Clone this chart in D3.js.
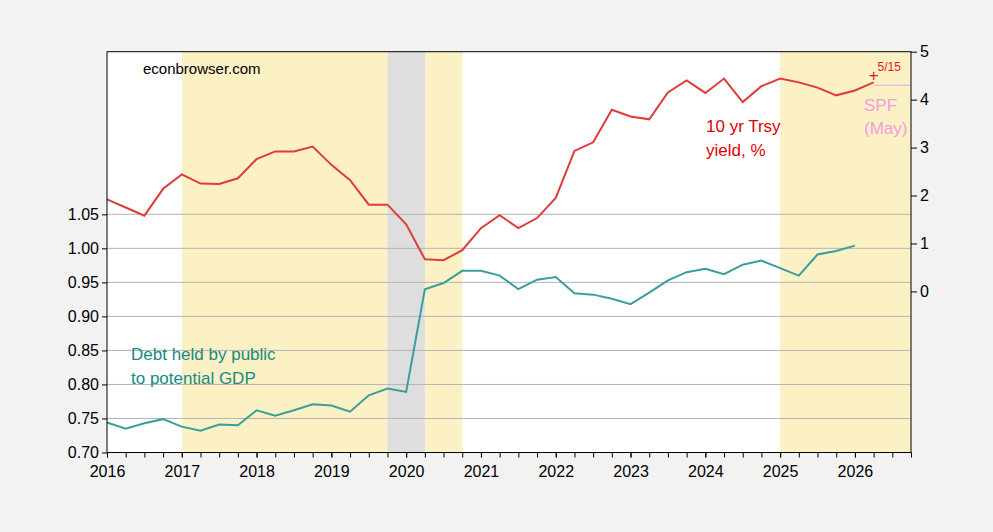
<!DOCTYPE html>
<html><head><meta charset="utf-8">
<script src="https://cdn.jsdelivr.net/npm/d3@7"></script>
<style>body{margin:0;background:#f2f2f2;font-family:Arial,"Liberation Sans",sans-serif;}</style>
</head><body><svg id="c" width="993" height="532"></svg>
<script>
// quarterly, 2016Q1 onward
var yieldVals = [1.92,1.75,1.58,2.14, 2.44,2.25,2.24,2.36, 2.76,2.92,2.92,3.02, 2.64,2.32,1.81,1.81,
  1.40,0.67,0.65,0.86, 1.32,1.59,1.32,1.53, 1.95,2.93,3.11,3.79, 3.65,3.59,4.15,4.40,
  4.14,4.44,3.95,4.28, 4.44,4.36,4.25,4.09, 4.19,4.36];
var debtVals = [0.744,0.735,0.743,0.749, 0.738,0.732,0.741,0.740, 0.762,0.754,0.762,0.771,
  0.769,0.760,0.784,0.794, 0.789,0.940,0.949,0.967, 0.967,0.960,0.940,0.954,
  0.958,0.934,0.932,0.926, 0.918,0.935,0.953,0.965, 0.970,0.962,0.976,0.982,
  0.971,0.960,0.991,0.996, 1.004];
var spfPoint = {t: 2026.25, v: 4.52, label: "5/15"};
var spfLevel = 4.30;
var leftTicks = [0.70,0.75,0.80,0.85,0.90,0.95,1.00,1.05];
var rightTicks = [0,1,2,3,4,5];
var yearTicks = d3.range(2016, 2027);
var yellowBands = [[2017,2019.75],[2020.25,2020.75],[2025,2026.75]];
var grayBands = [[2019.75,2020.25]];

var L=107, R=911, T=51.7, B=452.5;
var svg = d3.select('#c');
var x = d3.scaleLinear().domain([2016,2026.75]).range([L,R]);
var yL = d3.scaleLinear().domain([0.70,1.289]).range([B,T]);
var yR = d3.scaleLinear().domain([-3.36,5]).range([B,T]);
var tq = function(i){ return 2016 + i/4; };

svg.append('rect').attr('x',L).attr('y',T).attr('width',R-L).attr('height',B-T).attr('fill','#fff');
svg.selectAll('.yb').data(yellowBands).enter().append('rect')
  .attr('x',d=>x(d[0])).attr('width',d=>x(d[1])-x(d[0])).attr('y',T).attr('height',B-T).attr('fill','#fcf1c4');
svg.selectAll('.gb').data(grayBands).enter().append('rect')
  .attr('x',d=>x(d[0])).attr('width',d=>x(d[1])-x(d[0])).attr('y',T).attr('height',B-T).attr('fill','#dedede');

svg.selectAll('.grid').data(leftTicks.slice(1)).enter().append('line')
  .attr('x1',L).attr('x2',R).attr('y1',d=>yL(d)).attr('y2',d=>yL(d)).attr('stroke','#b4b4b4');

var line = function(ys){ return d3.line().x((d,i)=>x(tq(i))).y(d=>ys(d)); };
svg.append('path').datum(debtVals).attr('d',line(yL)).attr('fill','none').attr('stroke','#3a9e9a').attr('stroke-width',2);
svg.append('path').datum(yieldVals).attr('d',line(yR)).attr('fill','none').attr('stroke','#e03a3a').attr('stroke-width',2);

svg.append('line').attr('x1',x(spfPoint.t)).attr('x2',R).attr('y1',yR(spfLevel)).attr('y2',yR(spfLevel)).attr('stroke','#f4a3e0');
svg.append('text').attr('x',x(spfPoint.t)).attr('y',yR(spfPoint.v)+6).attr('text-anchor','middle').attr('fill','#e8141e').style('font-size','17px').text('+');
svg.append('text').attr('x',x(spfPoint.t)+4).attr('y',yR(spfPoint.v)-4).attr('fill','#e8141e').style('font-size','12px').text(spfPoint.label);

svg.append('rect').attr('x',L).attr('y',T).attr('width',R-L).attr('height',B-T).attr('fill','none').attr('stroke','#000');

svg.append('g').attr('transform','translate(0,'+B+')')
  .call(d3.axisBottom(x).tickValues(d3.range(2016,2026.76,0.25)).tickSize(5).tickFormat(''));
svg.append('g').attr('transform','translate(0,'+B+')')
  .call(d3.axisBottom(x).tickValues(yearTicks).tickSize(5).tickFormat(d3.format('d')))
  .call(g=>g.selectAll('text').attr('dy','1.05em').style('font-size','16px'));
svg.append('g').attr('transform','translate('+L+',0)')
  .call(d3.axisLeft(yL).tickValues(leftTicks).tickSize(5).tickFormat(d3.format('.2f')))
  .call(g=>g.selectAll('text').style('font-size','16px'));
svg.append('g').attr('transform','translate('+R+',0)')
  .call(d3.axisRight(yR).tickValues(rightTicks).tickSize(6))
  .call(g=>g.selectAll('text').style('font-size','16px'));
svg.selectAll('.domain').remove();
svg.selectAll('.tick text').attr('fill','#000').style('font-family','Arial,"Liberation Sans",sans-serif');

var txt = function(s,xx,yy,c){ svg.append('text').attr('x',xx).attr('y',yy).attr('fill',c).style('font-size','17px').text(s); };
svg.append('text').attr('x',143).attr('y',74).style('font-size','15px').text('econbrowser.com');
txt('Debt held by public',131,360,'#168a86');
txt('to potential GDP',131,384,'#168a86');
txt('10 yr Trsy',706,132,'#e00000');
txt('yield, %',706,156,'#e00000');
txt('SPF',864,111,'#f49be0');
txt('(May)',864,134,'#f49be0');
</script></body></html>
